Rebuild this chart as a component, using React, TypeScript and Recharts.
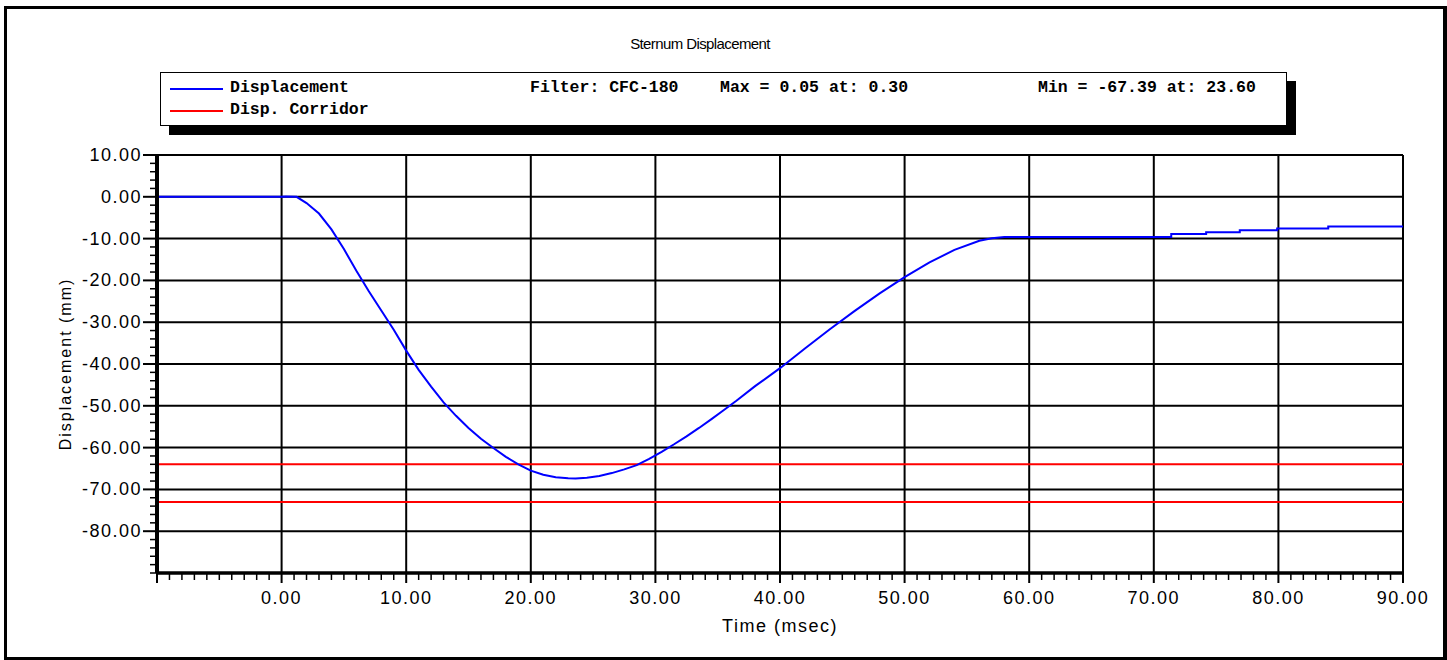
import React from 'react';
import { LineChart, Line, XAxis, YAxis, ReferenceLine, Label } from 'recharts';

// sternum displacement trace (msec / mm)
const timeMs = [
  -10, 0, 0.3, 1.2, 2, 3, 4, 5, 6, 7, 8, 9, 10, 11, 12, 13, 14, 15, 16, 17, 18, 19, 20,
  21, 22, 23, 23.6, 24.5, 25.5, 26.5, 27.5, 28.5, 29.5, 30.5, 31.5, 32.5, 33.5, 34.5,
  35.5, 36.5, 38, 40, 42, 44, 46, 48, 50, 52, 54, 56, 57, 58, 60, 65, 71.4, 71.4, 74.2,
  74.2, 76.9, 76.9, 79.9, 79.9, 84, 84, 90,
];
const displacement = [
  0, 0, 0.05, 0, -1.5, -4.0, -7.8, -12.5, -17.7, -22.6, -27.2, -31.8, -36.8, -41.4, -45.4,
  -49.2, -52.4, -55.3, -57.9, -60.1, -62.2, -64.0, -65.5, -66.5, -67.1, -67.35, -67.39,
  -67.2, -66.8, -66.1, -65.2, -64.2, -62.7, -61.0, -59.2, -57.3, -55.3, -53.2, -51.0,
  -48.8, -45.3, -41.0, -36.3, -31.7, -27.3, -23.1, -19.2, -15.7, -12.7, -10.5, -9.9, -9.6,
  -9.6, -9.6, -9.6, -8.9, -8.9, -8.5, -8.5, -8.0, -8.0, -7.6, -7.6, -7.1, -7.1,
];
const corridorLevels = [-64, -73];

const majorX = [0, 10, 20, 30, 40, 50, 60, 70, 80, 90];
const majorY = [10, 0, -10, -20, -30, -40, -50, -60, -70, -80];
const xTicks = Array.from({ length: 101 }, (_, i) => i - 10); // minor every 1 msec
const yTicks = Array.from({ length: 51 }, (_, i) => -90 + i * 2); // minor every 2 mm

const legendStats = ['Filter: CFC-180', 'Max = 0.05 at: 0.30', 'Min = -67.39 at: 23.60'];

const data = timeMs.map((t, i) => ({ t, d: displacement[i] }));

const FONT = "Arial, 'Liberation Sans', sans-serif";
const MONO = "'Courier New', 'Liberation Mono', monospace";

function XTick(props: any) {
  const { x, y, payload } = props;
  const v = payload.value;
  const major = v % 10 === 0;
  return (
    <g>
      <line x1={x} x2={x} y1={y} y2={y + (major ? 10 : 7)} stroke="#000" strokeWidth={major ? 2 : 1.5} />
      {major && v >= 0 && (
        <text x={x} y={y + 31} textAnchor="middle" fontFamily={FONT} fontSize={18} letterSpacing={1.5} fill="#000">
          {v.toFixed(2)}
        </text>
      )}
    </g>
  );
}

function YTick(props: any) {
  const { x, y, payload } = props;
  const v = payload.value;
  const major = v % 10 === 0 && v > -90;
  return (
    <g>
      <line x1={x - (major ? 14 : 7)} x2={x} y1={y} y2={y} stroke="#000" strokeWidth={major ? 2 : 1.5} />
      {major && (
        <text x={x - 15} y={y} textAnchor="end" dominantBaseline="central" fontFamily={FONT} fontSize={18} letterSpacing={1.5} fill="#000">
          {v.toFixed(2)}
        </text>
      )}
    </g>
  );
}

function LegendBox() {
  const row = (color: string, name: string, top: number) => (
    <>
      <div style={{ position: 'absolute', left: 9, top: top, width: 53, height: 2, background: color }} />
      <span style={{ position: 'absolute', left: 69, top: top - 10, lineHeight: '20px' }}>{name}</span>
    </>
  );
  return (
    <div
      style={{
        position: 'absolute', left: 160, top: 72, width: 1127, height: 54, boxSizing: 'border-box',
        border: '1.5px solid #000', boxShadow: '9px 9px 0 #000', background: '#fff',
        fontFamily: MONO, fontWeight: 'bold', fontSize: 16.5, color: '#000', whiteSpace: 'pre',
      }}
    >
      {row('#0000ff', 'Displacement', 15)}
      {row('#ff0000', 'Disp. Corridor', 37)}
      <span style={{ position: 'absolute', left: 369, top: 5, lineHeight: '20px' }}>{legendStats[0]}</span>
      <span style={{ position: 'absolute', left: 559, top: 5, lineHeight: '20px' }}>{legendStats[1]}</span>
      <span style={{ position: 'absolute', left: 877, top: 5, lineHeight: '20px' }}>{legendStats[2]}</span>
    </div>
  );
}

export default function App() {
  return (
    <div style={{ position: 'absolute', left: 0, top: 0, width: 1447, height: 660, background: '#fff' }}>
      <div
        style={{
          position: 'absolute', left: 4, top: 6, width: 1443, height: 654, boxSizing: 'border-box',
          borderStyle: 'solid', borderColor: '#000', borderWidth: '3px 4px 3px 3px',
        }}
      />
      <div
        style={{
          position: 'absolute', left: 500, width: 400, top: 35, textAlign: 'center',
          fontFamily: FONT, fontSize: 15, letterSpacing: -0.6, color: '#000',
        }}
      >
        Sternum Displacement
      </div>
      <LegendBox />
      <div style={{ position: 'absolute', left: 0, top: 0 }}>
        <LineChart width={1447} height={660} data={data} margin={{ top: 155, right: 44, bottom: 27, left: 0 }}>
          {majorX.map((v) => (
            <ReferenceLine key={'gx' + v} x={v} stroke="#000" strokeWidth={2} />
          ))}
          {majorY.map((v) => (
            <ReferenceLine key={'gy' + v} y={v} stroke="#000" strokeWidth={2} />
          ))}
          {corridorLevels.map((v) => (
            <ReferenceLine key={'c' + v} y={v} stroke="#ff0000" strokeWidth={2} />
          ))}
          <XAxis
            dataKey="t"
            type="number"
            domain={[-10, 90]}
            ticks={xTicks}
            interval={0}
            tick={XTick}
            tickLine={false}
            tickSize={0}
            tickMargin={0}
            height={60}
            axisLine={{ stroke: '#000', strokeWidth: 3.5 }}
            allowDataOverflow
          >
            <Label
              content={(p: any) => {
                const vb = p.viewBox;
                return (
                  <text x={vb.x + vb.width / 2} y={vb.y + 59} textAnchor="middle" fontFamily={FONT} fontSize={18} letterSpacing={1.5} fill="#000">
                    Time (msec)
                  </text>
                );
              }}
            />
          </XAxis>
          <YAxis
            type="number"
            domain={[-90, 10]}
            ticks={yTicks}
            interval={0}
            tick={YTick}
            tickLine={false}
            tickSize={0}
            tickMargin={0}
            width={157}
            axisLine={{ stroke: '#000', strokeWidth: 4 }}
            allowDataOverflow
          >
            <Label
              content={(p: any) => {
                const vb = p.viewBox;
                const cx = vb.x + 65;
                const cy = vb.y + vb.height / 2;
                return (
                  <text x={cx} y={cy} transform={`rotate(-90 ${cx} ${cy})`} textAnchor="middle" dominantBaseline="central" fontFamily={FONT} fontSize={16} letterSpacing={2} fill="#000">
                    Displacement (mm)
                  </text>
                );
              }}
            />
          </YAxis>
          <Line
            type="linear"
            dataKey="d"
            stroke="#0000ff"
            strokeWidth={2}
            dot={false}
            activeDot={false}
            isAnimationActive={false}
          />
        </LineChart>
      </div>
    </div>
  );
}
